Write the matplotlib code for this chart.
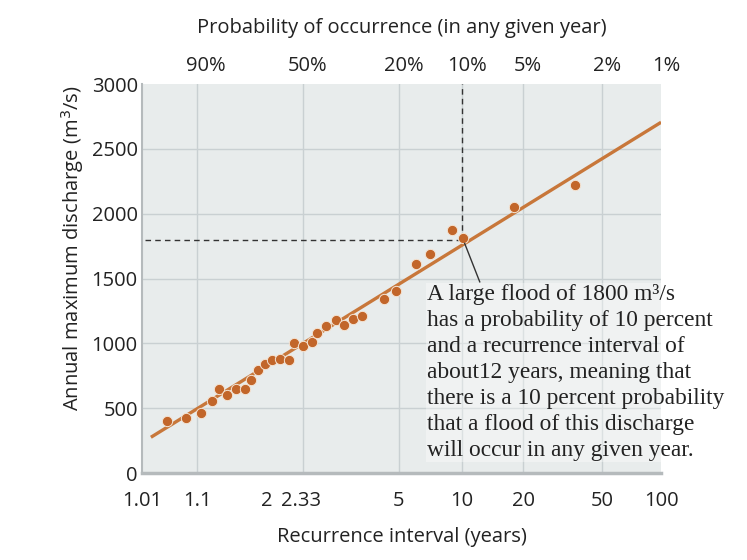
import numpy as np
import matplotlib
matplotlib.use("Agg")
import matplotlib.pyplot as plt
from matplotlib.transforms import ScaledTranslation

# ---- data ----
rec_interval = [1.034, 1.070, 1.112, 1.152, 1.186, 1.226, 1.279, 1.345, 1.392,
                1.452, 1.515, 1.586, 1.676, 1.795, 1.871, 2.00, 2.16, 2.26,
                2.44, 2.68, 2.88, 3.16, 3.44, 4.32, 4.88, 6.05, 6.99, 8.89,
                10.06, 18.1, 36.3]
discharge = [402, 423, 467, 556, 646, 600, 646, 651, 718,
             795, 844, 869, 877, 869, 1005, 979, 1010, 1077,
             1133, 1179, 1141, 1185, 1215, 1344, 1402, 1613, 1692, 1877,
             1813, 2049, 2223]

fit_T = [1.016, 100]
fit_Q = [277, 2705]

bottom_tick_vals = [1.01, 1.1, 1.53, 1.97, 5, 10, 20, 50, 100]
bottom_tick_labels = ["1.01", "1.1", "2", "2.33", "5", "10", "20", "50", "100"]
grid_T = [1.1, 2, 5, 10, 20, 50]
top_tick_vals = [1.111, 2, 5, 10, 20, 50, 100]
top_tick_labels = ["90%", "50%", "20%", "10%", "5%", "2%", "1%"]
y_ticks = [0, 500, 1000, 1500, 2000, 2500, 3000]
y_grid = [500, 1000, 1500, 2000, 2500]

flood_T = 10
flood_Q = 1800
note = ("A large flood of 1800 m\u00b3/s\n"
        "has a probability of 10 percent\n"
        "and a recurrence interval of\n"
        "about12 years, meaning that\n"
        "there is a 10 percent probability\n"
        "that a flood of this discharge\n"
        "will occur in any given year.")

# ---- Gumbel (extreme value) scale ----
def fwd(T):
    T = np.asarray(T, dtype=float)
    p = np.clip(1.0 - 1.0 / np.clip(T, 1.000001, None), 1e-12, 1 - 1e-12)
    return -np.log(-np.log(p))

def inv(g):
    g = np.asarray(g, dtype=float)
    return 1.0 / (1.0 - np.exp(-np.exp(-g)))

orange = "#c2662a"
line_c = "#c8773a"
txt = "#222222"
gridc = "#c9d0d2"
sans = ["Open Sans", "DejaVu Sans"]
FS = 14.5

fig = plt.figure(figsize=(7.47, 5.6), dpi=100)
ax = fig.add_axes([0.190, 0.155, 0.695, 0.695])
ax.set_xscale("function", functions=(fwd, inv))
ax.set_xlim(1.01, 100)
ax.set_ylim(0, 3000)
ax.set_facecolor("#e8ecec")

ax.set_xticks(bottom_tick_vals)
ax.set_xticklabels(bottom_tick_labels)
ax.set_yticks(y_ticks)
for t in grid_T:
    ax.axvline(t, color=gridc, lw=1.0, zorder=1)
for q in y_grid:
    ax.axhline(q, color=gridc, lw=1.0, zorder=1)
ax.tick_params(axis="x", which="both", length=0, pad=13, labelsize=FS,
               labelcolor=txt)
ax.tick_params(axis="y", length=0, pad=3, labelsize=FS, labelcolor=txt)
for lab in ax.get_xticklabels() + ax.get_yticklabels():
    lab.set_fontfamily(sans)
for s in ["top", "right"]:
    ax.spines[s].set_visible(False)
ax.spines["left"].set_color("#b5babc")
ax.spines["left"].set_linewidth(1.5)
ax.spines["bottom"].set_color("#b5babc")
ax.spines["bottom"].set_linewidth(2.5)

ax.set_xlabel("Recurrence interval (years)", fontsize=FS, color=txt,
              family=sans, labelpad=11)
ax.set_ylabel("Annual maximum discharge (m$^3$/s)", fontsize=FS, color=txt,
              family=sans)
ax.yaxis.set_label_coords(-0.108, 0.578)

# top axis
top = ax.twiny()
top.set_xscale("function", functions=(fwd, inv))
top.set_xlim(ax.get_xlim())
top.set_xticks(top_tick_vals)
top.set_xticklabels(top_tick_labels)
top.tick_params(axis="x", length=0, pad=6, labelsize=FS, labelcolor=txt)
shift = ScaledTranslation(5 / 100, 0, fig.dpi_scale_trans)
for lab in top.get_xticklabels():
    lab.set_fontfamily(sans)
    lab.set_transform(lab.get_transform() + shift)
for s in top.spines.values():
    s.set_visible(False)
top.set_xlabel("Probability of occurrence (in any given year)", fontsize=FS,
               color=txt, family=sans, labelpad=16)

# dashed reference lines
ax.plot([1.012, flood_T], [flood_Q, flood_Q], ls=(0, (4, 3)), color="#333333",
        lw=1.0, zorder=3)
ax.plot([flood_T, flood_T], [flood_Q, 3000], ls=(0, (4, 3)), color="#333333",
        lw=1.0, zorder=3)

# fitted line and points
ax.plot(fit_T, fit_Q, color=line_c, lw=2.4, solid_capstyle="butt", zorder=4)
ax.scatter(rec_interval, discharge, s=55, color=orange, edgecolor="#f4e4d4",
           linewidth=0.7, zorder=5)

# leader line + note
g0, g1 = fwd(fit_T[0]), fwd(fit_T[1])
q_on_line = fit_Q[0] + (fwd(10.3) - g0) * (fit_Q[1] - fit_Q[0]) / (g1 - g0)
ax.plot([10.3, 12.2], [q_on_line, 1475], color="#333333", lw=1.0, zorder=6)
ax.text(0.549, 0.486, note, transform=ax.transAxes, ha="left", va="top",
        fontsize=16.8, family="Liberation Serif", color=txt, linespacing=1.31,
        zorder=7, clip_on=False,
        bbox=dict(facecolor="white", alpha=0.35, edgecolor="none", pad=1))

fig.savefig("out.png", dpi=100)
